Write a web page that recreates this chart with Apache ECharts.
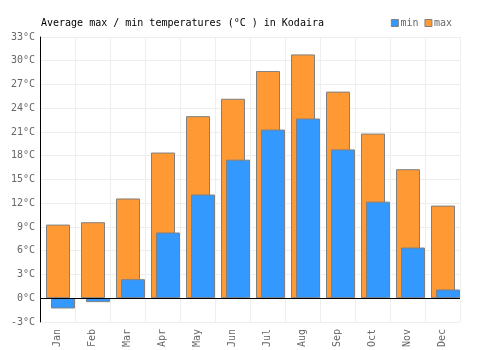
<!DOCTYPE html>
<html>
<head>
<meta charset="utf-8">
<script src="https://cdn.jsdelivr.net/npm/echarts@6/dist/echarts.min.js"></script>
<style>
  html, body { margin: 0; padding: 0; background: #fff; }
  #container { width: 500px; height: 350px; }
</style>
</head>
<body>
<div id="container"></div>
<script>
const months = ['Jan', 'Feb', 'Mar', 'Apr', 'May', 'Jun', 'Jul', 'Aug', 'Sep', 'Oct', 'Nov', 'Dec'];
const maxTemps = [9.3, 9.6, 12.6, 18.4, 23.0, 25.2, 28.7, 30.8, 26.1, 20.8, 16.3, 11.7];
const minTemps = [-1.3, -0.5, 2.4, 8.3, 13.1, 17.5, 21.3, 22.7, 18.8, 12.2, 6.4, 1.1];
const yTicks = { min: -3, max: 33, step: 3 };

const FONT = 'DejaVu Sans Mono';
const MIN_COLOR = '#3399ff';
const MAX_COLOR = '#ff9933';
const BORDER_COLOR = '#808080';

let dom = document.getElementById('container');
let myChart = echarts.init(dom);

let option = {
    animation: false,
    backgroundColor: '#fff',
    textStyle: { fontFamily: FONT },
    title: {
        text: 'Average max / min temperatures (°C ) in Kodaira',
        left: 36,
        top: 13,
        textStyle: { fontFamily: FONT, fontSize: 10, fontWeight: 'normal', color: '#000' }
    },
    legend: {
        data: ['min', 'max'],
        right: 43,
        top: 13,
        itemWidth: 7,
        itemHeight: 7,
        itemGap: 6,
        icon: 'rect',
        textStyle: { fontFamily: FONT, fontSize: 10, color: '#666', padding: [0, 0, 0, -3] },
        itemStyle: { borderColor: BORDER_COLOR, borderWidth: 1 }
    },
    grid: { left: 40, right: 40, top: 37, bottom: 28, containLabel: false },
    xAxis: {
        type: 'category',
        data: months,
        boundaryGap: true,
        axisLine: { show: false },
        axisTick: { show: false },
        axisLabel: { rotate: 90, margin: 7, color: '#666', fontFamily: FONT, fontSize: 10 },
        splitLine: { show: true, lineStyle: { color: '#eeeeee', width: 1 } }
    },
    yAxis: {
        type: 'value',
        min: yTicks.min,
        max: yTicks.max,
        interval: yTicks.step,
        axisLine: { show: true, lineStyle: { color: '#000', width: 1 } },
        axisTick: { show: false },
        axisLabel: { formatter: '{value}°C', margin: 5, color: '#666', fontFamily: FONT, fontSize: 10 },
        splitLine: { show: true, lineStyle: { color: '#eeeeee', width: 1 } }
    },
    series: [
        {
            name: 'max',
            type: 'bar',
            data: maxTemps,
            barWidth: 24,
            barGap: '-79.2%',
            itemStyle: { color: MAX_COLOR, borderColor: BORDER_COLOR, borderWidth: 1 },
            markLine: {
                silent: true,
                symbol: 'none',
                label: { show: false },
                lineStyle: { color: '#000', width: 1, type: 'solid' },
                data: [{ yAxis: 0 }],
                z: 10
            }
        },
        {
            name: 'min',
            type: 'bar',
            data: minTemps,
            barWidth: 24,
            itemStyle: { color: MIN_COLOR, borderColor: BORDER_COLOR, borderWidth: 1 }
        },
        {
            // empty spacer so the max bars sit on the category centre
            name: 'spacer',
            type: 'bar',
            data: [],
            barWidth: 13
        }
    ]
};

myChart.setOption(option);
window.addEventListener('resize', function () {
    myChart.resize();
});
</script>
</body>
</html>
